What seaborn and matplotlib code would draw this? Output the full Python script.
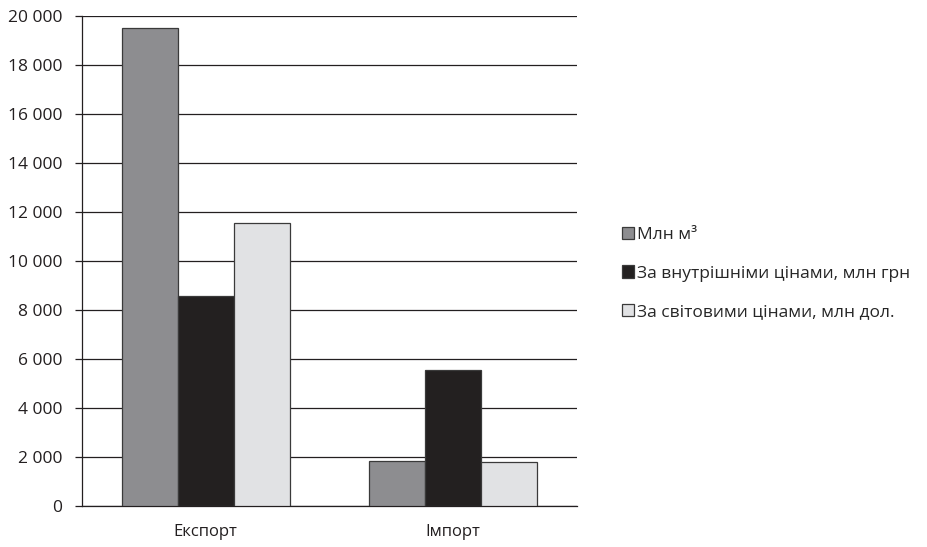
import pandas as pd
import matplotlib.pyplot as plt
import seaborn as sns
from matplotlib.ticker import FuncFormatter, FixedLocator

categories = ["Експорт", "Імпорт"]
series = ["Млн м³", "За внутрішніми цінами, млн грн", "За світовими цінами, млн дол."]
volume = [19500, 1840]
domestic = [8570, 5550]
world = [11550, 1800]
colors = ["#8c8d91", "#231f20", "#e1e2e4"]

df = pd.DataFrame({
    "category": categories * 3,
    "series": [series[0]] * 2 + [series[1]] * 2 + [series[2]] * 2,
    "value": volume + domestic + world,
})

sns.set_style("white")
plt.rcParams["font.family"] = ["Open Sans", "DejaVu Sans"]

fig = plt.figure(figsize=(9.28, 5.47), dpi=100)
ax = fig.add_axes([0.0884, 0.075, 0.5334, 0.8957])

sns.barplot(data=df, x="category", y="value", hue="series", palette=colors,
            width=0.68, edgecolor="#3a3a3a", linewidth=0.9, ax=ax, zorder=3)

ax.set_xlim(-0.5, 1.5)
ax.set_ylim(0, 20000)
ax.set_yticks(range(0, 20001, 2000))
ax.yaxis.set_major_formatter(FuncFormatter(lambda v, p: f"{int(v):,}".replace(",", " ")))
ax.grid(axis="y", color="#231f20", linewidth=0.9, zorder=0)
ax.set_axisbelow(True)

ax.xaxis.set_minor_locator(FixedLocator([-0.5, 0.5, 1.5]))
ax.tick_params(axis="x", which="major", length=0, pad=13, labelsize=12, colors="#231f20")
ax.tick_params(axis="x", which="minor", length=5, width=0.9, color="#231f20", direction="out")
ax.tick_params(axis="y", length=5, width=0.9, color="#231f20", labelsize=12.5,
               labelcolor="#231f20", left=True, pad=9)

for s in ["top", "right"]:
    ax.spines[s].set_visible(False)
for s in ["left", "bottom"]:
    ax.spines[s].set_color("#231f20")
    ax.spines[s].set_linewidth(0.9)

ax.set_xlabel("")
ax.set_ylabel("")

handles, labels = ax.get_legend_handles_labels()
ax.legend(handles, labels, loc="center left", bbox_to_anchor=(0.653, 0.5),
          bbox_transform=fig.transFigure, frameon=False, fontsize=12.5,
          handlelength=0.7, handleheight=0.7, handletextpad=0.2, labelspacing=1.3)

fig.savefig("out.png", dpi=100)
